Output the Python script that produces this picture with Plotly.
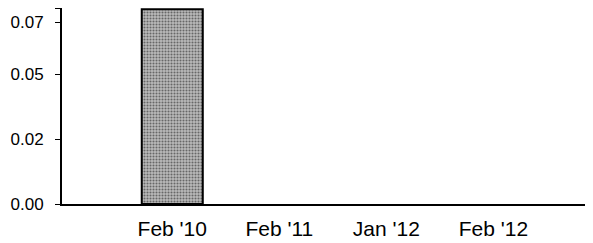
import plotly.graph_objects as go

categories = ["Feb '10", "Feb '11", "Jan '12", "Feb '12"]
values = [0.075, 0.0, 0.0, 0.0]
y_tickvals = [0.0, 0.025, 0.05, 0.07]
y_ticktext = ["0.00", "0.02", "0.05", "0.07"]

fig = go.Figure()
fig.add_trace(go.Bar(
    x=categories, y=values, width=0.57,
    marker=dict(
        color="#b0b0b0",
        line=dict(color="black", width=[2, 0, 0, 0]),
        pattern=dict(shape=".", fgcolor="#111111", bgcolor="#bcbcbc", size=3, solidity=0.4),
    ),
))

fig.update_layout(
    width=585, height=235,
    margin=dict(l=54, r=0, t=0, b=39, autoexpand=False),
    paper_bgcolor="white", plot_bgcolor="white",
    showlegend=False,
    font=dict(family="Liberation Sans, Arial, sans-serif", size=16, color="black"),
)
fig.update_xaxes(
    type="category", range=[-1.03, 3.93], automargin=False,
    showline=True, linecolor="black", linewidth=2,
    showgrid=False, ticks="", tickfont=dict(size=21), ticklabelstandoff=5,
)
fig.update_yaxes(
    range=[0, 0.0755], tickvals=y_tickvals, ticktext=y_ticktext, automargin=False,
    showline=True, linecolor="black", linewidth=2,
    showgrid=False, zeroline=False, ticks="outside", ticklen=5, tickcolor="black",
    tickfont=dict(size=17), ticklabelstandoff=8,
    minor=dict(tickvals=[0.0755], ticks="outside", ticklen=5, tickcolor="black"),
)

fig.write_html("out.html")
